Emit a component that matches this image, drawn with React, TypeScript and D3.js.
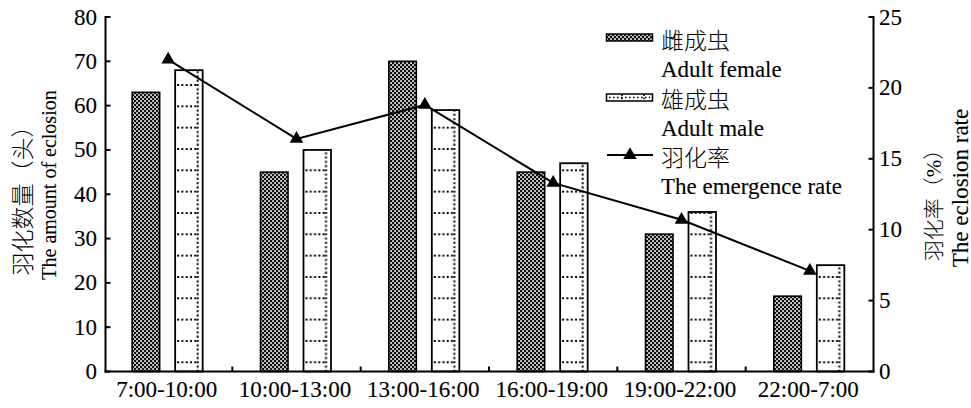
import React from 'react';
import * as d3 from 'd3';

// Eclosion counts per time window and the emergence rate
const categories = ['7:00-10:00', '10:00-13:00', '13:00-16:00', '16:00-19:00', '19:00-22:00', '22:00-7:00'];
const femaleCounts = [63, 45, 70, 45, 31, 17];
const maleCounts = [68, 50, 59, 47, 36, 24];
const emergenceRate = [22.0, 16.4, 18.8, 13.3, 10.7, 7.1];
const countTicks = [0, 10, 20, 30, 40, 50, 60, 70, 80];
const rateTicks = [0, 5, 10, 15, 20, 25];
const seriesKeys = ['female', 'male'];

const W = 971;
const H = 408;
const AXIS_LEFT = 105.5;
const AXIS_RIGHT = 873.5;
const AXIS_TOP = 17;
const AXIS_BOTTOM = 371.5;
const FONT = "'Liberation Serif', 'Noto Sans CJK SC', serif";

// very thin outline so the serif text sits a touch heavier
const latin = { stroke: '#000', strokeWidth: 0.12 };
const cjk = { fontWeight: 300 };

export default function App() {
  const x = d3.scaleBand<string>().domain(categories).range([104, 874]).padding(0);
  const inner = d3.scaleBand<string>().domain(seriesKeys).range([-36, 34.5]).paddingInner(0.36).paddingOuter(0);
  const yCount = d3.scaleLinear().domain([0, 80]).range([AXIS_BOTTOM, AXIS_TOP]);
  const yRate = d3.scaleLinear().domain([0, 25]).range([AXIS_BOTTOM, AXIS_TOP]);
  const cx = (c: string) => (x(c) as number) + x.bandwidth() / 2;
  const bw = inner.bandwidth();

  const maleX0 = cx(categories[0]) + (inner('male') as number);
  const stripe = 21.33;

  const line = d3
    .line<number>()
    .x((_, i) => cx(categories[i]))
    .y((d) => yRate(d));
  const tri = d3.symbol().type(d3.symbolTriangle).size(80)() as string;

  const boundaries = categories.slice(1).map((c) => x(c) as number);

  return (
    <svg
      width={W}
      height={H}
      style={{ position: 'absolute', left: 0, top: 0, background: '#fff' }}
      fontFamily={FONT}
    >
      <defs>
        <pattern id="femaleFill" patternUnits="userSpaceOnUse" width={4} height={4}>
          <rect width={4} height={4} fill="#111" />
          <rect x={0.2} y={0.2} width={1.7} height={1.7} fill="#fff" />
          <rect x={2.2} y={2.2} width={1.7} height={1.7} fill="#fff" />
        </pattern>
        <pattern
          id="maleFill"
          patternUnits="userSpaceOnUse"
          x={maleX0}
          y={361.3}
          width={x.step()}
          height={stripe}
        >
          <rect width={x.step()} height={stripe} fill="#fff" />
          <line x1={2} x2={bw - 6} y1={1} y2={1} stroke="#000" strokeWidth={2} strokeDasharray="2 2.3" />
          <line x1={bw - 5} x2={bw - 5} y1={0} y2={stripe} stroke="#000" strokeWidth={2} strokeDasharray="2 2.27" />
        </pattern>
      </defs>

      {/* bars */}
      {categories.map((c, i) => (
        <g key={c}>
          <rect
            x={cx(c) + (inner('female') as number)}
            y={yCount(femaleCounts[i])}
            width={bw}
            height={AXIS_BOTTOM - yCount(femaleCounts[i])}
            fill="url(#femaleFill)"
            stroke="#000"
            strokeWidth={1.6}
          />
          <rect
            x={cx(c) + (inner('male') as number)}
            y={yCount(maleCounts[i])}
            width={bw}
            height={AXIS_BOTTOM - yCount(maleCounts[i])}
            fill="url(#maleFill)"
            stroke="#000"
            strokeWidth={1.8}
          />
        </g>
      ))}

      {/* emergence rate line */}
      <path d={line(emergenceRate) as string} fill="none" stroke="#000" strokeWidth={2} />
      {emergenceRate.map((v, i) => (
        <path key={i} d={tri} transform={`translate(${cx(categories[i])},${yRate(v)})`} fill="#000" />
      ))}

      {/* axes */}
      <g stroke="#000" strokeWidth={2} fill="none">
        <line x1={AXIS_LEFT} x2={AXIS_LEFT} y1={AXIS_TOP - 1} y2={AXIS_BOTTOM + 1} />
        <line x1={AXIS_RIGHT} x2={AXIS_RIGHT} y1={AXIS_TOP - 1} y2={AXIS_BOTTOM + 1} />
        <line x1={AXIS_LEFT - 1} x2={AXIS_RIGHT + 1} y1={AXIS_BOTTOM} y2={AXIS_BOTTOM} />
        {countTicks.map((t) => (
          <line key={`l${t}`} x1={AXIS_LEFT} x2={AXIS_LEFT + 5} y1={yCount(t)} y2={yCount(t)} />
        ))}
        {rateTicks.map((t) => (
          <line key={`r${t}`} x1={AXIS_RIGHT - 5} x2={AXIS_RIGHT} y1={yRate(t)} y2={yRate(t)} />
        ))}
        {boundaries.map((b, i) => (
          <line key={`b${i}`} x1={b} x2={b} y1={AXIS_BOTTOM} y2={AXIS_BOTTOM - 5} />
        ))}
      </g>

      {/* tick labels */}
      <g fontSize={23} fill="#000" {...latin}>
        {countTicks.map((t) => (
          <text key={`lt${t}`} x={97} y={yCount(t)} textAnchor="end" dominantBaseline="central">
            {t}
          </text>
        ))}
        {rateTicks.map((t) => (
          <text key={`rt${t}`} x={879} y={yRate(t)} textAnchor="start" dominantBaseline="central">
            {t}
          </text>
        ))}
        {categories.map((c) => (
          <text key={`ct${c}`} x={cx(c) - 1.5} y={397} textAnchor="middle">
            {c}
          </text>
        ))}
      </g>

      {/* axis titles */}
      <g fill="#000">
        <text
          transform="translate(23,195) rotate(-90)"
          textAnchor="middle"
          dominantBaseline="central"
          fontSize={23}
          {...cjk}
        >
          羽化数量（头）
        </text>
        <text
          transform="translate(49,185) rotate(-90)"
          textAnchor="middle"
          dominantBaseline="central"
          fontSize={20}
          {...latin}
        >
          The amount of eclosion
        </text>
        <text
          transform="translate(934,200) rotate(-90)"
          textAnchor="middle"
          dominantBaseline="central"
          fontSize={21}
          {...cjk}
        >
          羽化率（%）
        </text>
        <text
          transform="translate(960,188) rotate(-90)"
          textAnchor="middle"
          dominantBaseline="central"
          fontSize={23}
          {...latin}
        >
          The eclosion rate
        </text>
      </g>

      {/* legend */}
      <g fill="#000" fontSize={23}>
        <rect x={606.5} y={34} width={46} height={7} fill="url(#femaleFill)" stroke="#000" strokeWidth={1.5} />
        <text x={661} y={41.7} dominantBaseline="central" {...cjk}>雌成虫</text>
        <text x={661} y={77.3} {...latin}>Adult female</text>

        <rect x={606.5} y={94} width={46} height={7} fill="#fff" stroke="#000" strokeWidth={1.5} />
        <line x1={609} x2={650} y1={97.5} y2={97.5} stroke="#000" strokeWidth={1.6} strokeDasharray="1.6 2.4" />
        <line x1={622} x2={622} y1={94.5} y2={100.5} stroke="#000" strokeWidth={1.6} strokeDasharray="1.6 1.6" />
        <line x1={644} x2={644} y1={94.5} y2={100.5} stroke="#000" strokeWidth={1.6} strokeDasharray="1.6 1.6" />
        <text x={661} y={100} dominantBaseline="central" {...cjk}>雄成虫</text>
        <text x={661} y={135.6} {...latin}>Adult male</text>

        <line x1={607} x2={653} y1={155} y2={155} stroke="#000" strokeWidth={2} />
        <path d={tri} transform="translate(630,155)" fill="#000" />
        <text x={661} y={158} dominantBaseline="central" {...cjk}>羽化率</text>
        <text x={661} y={193.9} {...latin}>The emergence rate</text>
      </g>
    </svg>
  );
}
